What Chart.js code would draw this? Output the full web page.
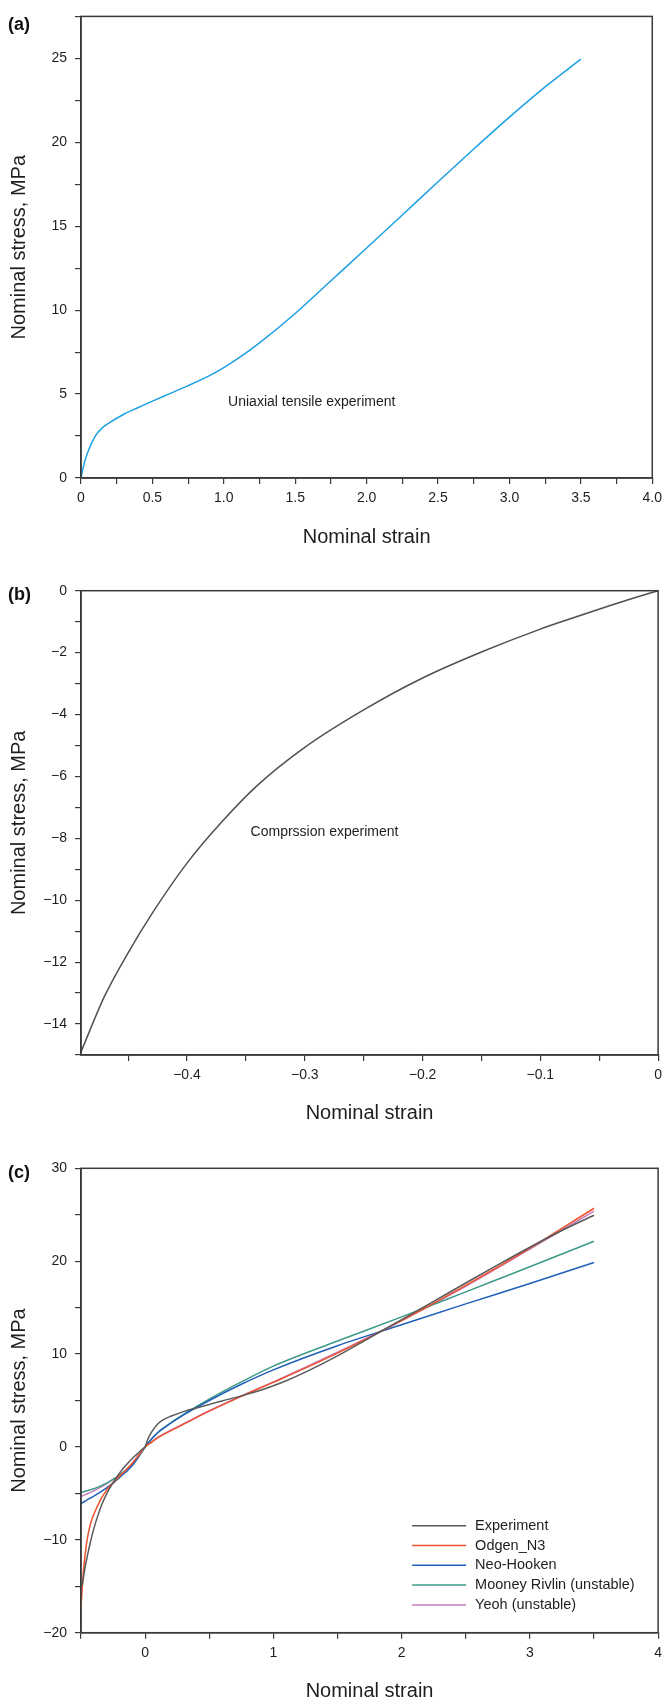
<!DOCTYPE html>
<html>
<head>
<meta charset="utf-8">
<title>Nominal stress vs nominal strain</title>
<script src="https://cdn.jsdelivr.net/npm/chart.js@4.4.1/dist/chart.umd.min.js"></script>
<style>
  html, body { margin: 0; padding: 0; background: #fff; }
  #wrap { position: relative; width: 668px; height: 1703px; }
  .panel { position: absolute; left: 0; width: 668px; }
  canvas { display: block; }
</style>
</head>
<body>
<div id="wrap">
  <div class="panel" style="top:0"><canvas id="chartA" width="668" height="570"></canvas></div>
  <div class="panel" style="top:570px"><canvas id="chartB" width="668" height="565"></canvas></div>
  <div class="panel" style="top:1135px"><canvas id="chartC" width="668" height="568"></canvas></div>
</div>
<script>
/* ---- data (a) : uniaxial tensile experiment ---- */
const tensileStrain = [0, 0.02, 0.05, 0.1, 0.15, 0.2, 0.3, 0.4, 0.5, 0.6, 0.75, 0.9, 1.0, 1.1,
                       1.25, 1.5, 1.75, 2.0, 2.25, 2.5, 2.75, 3.0, 3.25, 3.5];
const tensileStress = [0, 0.8, 1.6, 2.5, 3.0, 3.3, 3.8, 4.2, 4.58, 4.95, 5.5, 6.1, 6.58, 7.12,
                       8.05, 9.8, 11.75, 13.7, 15.67, 17.65, 19.6, 21.5, 23.3, 24.95];

/* ---- data (b) : compression experiment ---- */
const comprStrain = [-0.49, -0.47, -0.45, -0.43, -0.4, -0.37, -0.34, -0.3, -0.25, -0.2,
                     -0.15, -0.1, -0.07, -0.04, -0.02, 0];
const comprStress = [-14.9, -13.1, -11.7, -10.45, -8.8, -7.45, -6.28, -5.06, -3.85, -2.82,
                     -1.98, -1.24, -0.85, -0.47, -0.23, 0];

/* ---- data (c) : model fits ---- */
const fitStrain  = [-0.5, -0.48, -0.46, -0.44, -0.42, -0.4, -0.35, -0.3, -0.25, -0.2, -0.15, -0.1, -0.05,
                    0, 0.05, 0.1, 0.2, 0.3, 0.5, 0.75, 1.0, 1.5, 2.0, 2.5, 3.0, 3.5];
const ogdenN3    = [-17.2, -13.2, -10.7, -9.1, -8.0, -7.25, -5.75, -4.65, -3.85, -3.15, -2.5, -1.75, -0.9,
                    0, 0.5, 1.0, 1.75, 2.45, 3.85, 5.45, 6.95, 10.1, 13.6, 17.4, 21.4, 25.7];
const neoHooken  = [-6.1, -5.93, -5.77, -5.6, -5.45, -5.3, -4.87, -4.4, -3.9, -3.3, -2.7, -2.0, -1.05,
                    0, 0.85, 1.55, 2.55, 3.45, 5.0, 6.75, 8.3, 10.9, 13.15, 15.4, 17.6, 19.85];
const mooney     = [-4.9, -4.83, -4.75, -4.67, -4.59, -4.5, -4.22, -3.9, -3.5, -3.03, -2.5, -1.85, -0.95,
                    0, 0.85, 1.55, 2.6, 3.5, 5.15, 7.0, 8.7, 11.4, 14.0, 16.7, 19.4, 22.15];
const yeoh       = [-5.35, -5.22, -5.1, -4.98, -4.86, -4.73, -4.36, -3.95, -3.5, -3.02, -2.48, -1.78, -0.9,
                    0, 0.55, 1.05, 1.8, 2.5, 3.9, 5.5, 7.0, 10.2, 13.6, 17.3, 21.3, 25.4];
const fitLabels  = ['Experiment', 'Odgen_N3', 'Neo-Hooken', 'Mooney Rivlin (unstable)', 'Yeoh (unstable)'];

/* ---- style ---- */
const FONT = '"Liberation Sans", Arial, Helvetica, sans-serif';
const AXIS_COLOR = '#3a3a3a';
const TEXT_COLOR = '#1e1e1e';
const MINUS = '\u2212';

function pts(xs, ys) { return xs.map((x, i) => ({ x, y: ys[i] })); }
function isMultiple(v, step) { const r = v / step; return Math.abs(r - Math.round(r)) < 1e-6; }
function signed(v, dec) {
  if (Math.abs(v) < 1e-9) return '0';
  const s = Math.abs(v).toFixed(dec);
  return v < 0 ? MINUS + s : s;
}

/* ──── plugins ──────────────────────────────────────── */

const framePlugin = {
  id: 'frame',
  afterDraw(chart) {
    const { ctx, chartArea: a } = chart;
    ctx.save();
    ctx.strokeStyle = AXIS_COLOR;
    ctx.lineWidth = 1.5;
    ctx.strokeRect(a.left, a.top, a.right - a.left, a.bottom - a.top);
    ctx.restore();
  }
};

const panelLabelPlugin = {
  id: 'panelLabel',
  afterDraw(chart, args, opts) {
    if (!opts.text) return;
    const ctx = chart.ctx;
    ctx.save();
    ctx.fillStyle = '#111';
    ctx.font = 'bold 18px ' + FONT;
    ctx.textBaseline = 'middle';
    ctx.fillText(opts.text, 8, opts.y);
    ctx.restore();
  }
};

const notePlugin = {
  id: 'note',
  afterDraw(chart, args, opts) {
    if (!opts.text) return;
    const { ctx, scales } = chart;
    ctx.save();
    ctx.fillStyle = TEXT_COLOR;
    ctx.font = '14px ' + FONT;
    ctx.textBaseline = 'middle';
    ctx.fillText(opts.text, scales.x.getPixelForValue(opts.x), scales.y.getPixelForValue(opts.y));
    ctx.restore();
  }
};

const boxLegendPlugin = {
  id: 'boxLegend',
  afterDraw(chart, args, opts) {
    if (!opts.display) return;
    const { ctx, chartArea: a } = chart;
    const x0 = a.right - opts.fromRight;
    ctx.save();
    ctx.font = '14.5px ' + FONT;
    ctx.textBaseline = 'middle';
    chart.data.datasets.forEach((ds, i) => {
      const y = a.bottom - opts.fromBottom + i * opts.rowGap;
      ctx.strokeStyle = ds.borderColor;
      ctx.lineWidth = 1.5;
      ctx.beginPath();
      ctx.moveTo(x0, y);
      ctx.lineTo(x0 + opts.lineLen, y);
      ctx.stroke();
      ctx.fillStyle = TEXT_COLOR;
      ctx.fillText(ds.label, x0 + opts.lineLen + 9, y);
    });
    ctx.restore();
  }
};

/* ──── axis builders ────────────────────────────────── */

function xAxis(min, max, minor, major, fmt, height, titlePad) {
  return {
    type: 'linear', min, max,
    ticks: {
      stepSize: minor, autoSkip: false, includeBounds: false, maxRotation: 0,
      color: TEXT_COLOR, font: { family: FONT, size: 14 }, padding: 6,
      callback: v => isMultiple(v, major) ? fmt(v) : ''
    },
    grid: { drawOnChartArea: false, tickLength: 6, color: AXIS_COLOR, lineWidth: 1.2 },
    border: { color: AXIS_COLOR, width: 1.5 },
    title: { display: true, text: 'Nominal strain', color: TEXT_COLOR,
             font: { family: FONT, size: 20 }, padding: { top: 0, bottom: titlePad } },
    afterFit: s => { s.height = height; }
  };
}

function yAxis(min, max, minor, major, fmt) {
  return {
    type: 'linear', min, max,
    ticks: {
      stepSize: minor, autoSkip: false, includeBounds: false,
      color: TEXT_COLOR, font: { family: FONT, size: 14 }, padding: 8,
      callback: v => isMultiple(v, major) ? fmt(v) : ''
    },
    grid: { drawOnChartArea: false, tickLength: 6, color: AXIS_COLOR, lineWidth: 1.2 },
    border: { color: AXIS_COLOR, width: 1.5 },
    title: { display: true, text: 'Nominal stress, MPa', color: TEXT_COLOR,
             font: { family: FONT, size: 20 }, padding: { top: 7, bottom: 0 } },
    afterFit: s => { s.width = 81; }
  };
}

function line(label, data, color) {
  return {
    label, data, borderColor: color, backgroundColor: color,
    borderWidth: 1.5, pointRadius: 0, fill: false,
    cubicInterpolationMode: 'monotone'
  };
}

function baseOptions(padTop, x, y, plugins) {
  return {
    responsive: false, animation: false,
    layout: { padding: { left: 0, right: 9, top: padTop, bottom: 0 } },
    plugins: Object.assign({ legend: { display: false }, tooltip: { enabled: false } }, plugins),
    scales: { x, y }
  };
}

/* ──── (a) ──────────────────────────────────────────── */

new Chart(document.getElementById('chartA'), {
  type: 'line',
  data: { datasets: [line('Uniaxial tensile experiment', pts(tensileStrain, tensileStress), '#1ca0e4')] },
  options: baseOptions(12.6,
    xAxis(0, 4, 0.25, 0.5, v => v === 0 ? '0' : v.toFixed(1), 92, 21),
    yAxis(0, 27.5, 2.5, 5, v => String(v)),
    { panelLabel: { text: '(a)', y: 25 },
      note: { text: 'Uniaxial tensile experiment', x: 1.03, y: 4.5 } }),
  plugins: [framePlugin, panelLabelPlugin, notePlugin]
});

/* ──── (b) ──────────────────────────────────────────── */

new Chart(document.getElementById('chartB'), {
  type: 'line',
  data: { datasets: [line('Comprssion experiment', pts(comprStrain, comprStress), '#505050')] },
  options: baseOptions(20.7,
    xAxis(-0.49, 0, 0.05, 0.1, v => signed(v, 1), 80, 10),
    yAxis(-15, 0, 1, 2, v => signed(v, 0)),
    { panelLabel: { text: '(b)', y: 25 },
      note: { text: 'Comprssion experiment', x: -0.346, y: -7.8 } }),
  plugins: [framePlugin, panelLabelPlugin, notePlugin]
});

/* ──── (c) ──────────────────────────────────────────── */

const expStrain = comprStrain.slice(0, -1).concat(tensileStrain);
const expStress = comprStress.slice(0, -1).concat(tensileStress);

new Chart(document.getElementById('chartC'), {
  type: 'line',
  data: {
    datasets: [
      line(fitLabels[0], pts(expStrain, expStress), '#5a5a5a'),
      line(fitLabels[1], pts(fitStrain, ogdenN3), '#f0522b'),
      line(fitLabels[2], pts(fitStrain, neoHooken), '#1f5fb9'),
      line(fitLabels[3], pts(fitStrain, mooney), '#3e9a88'),
      line(fitLabels[4], pts(fitStrain, yeoh), '#c47cbd')
    ]
  },
  options: baseOptions(33.3,
    xAxis(-0.5, 4, 0.5, 1, v => signed(v, 0), 70.3, 0),
    yAxis(-20, 30, 5, 10, v => signed(v, 0)),
    { panelLabel: { text: '(c)', y: 38 },
      boxLegend: { display: true, fromRight: 246, fromBottom: 107, rowGap: 19.8, lineLen: 54 } }),
  plugins: [framePlugin, panelLabelPlugin, boxLegendPlugin]
});
</script>
</body>
</html>
